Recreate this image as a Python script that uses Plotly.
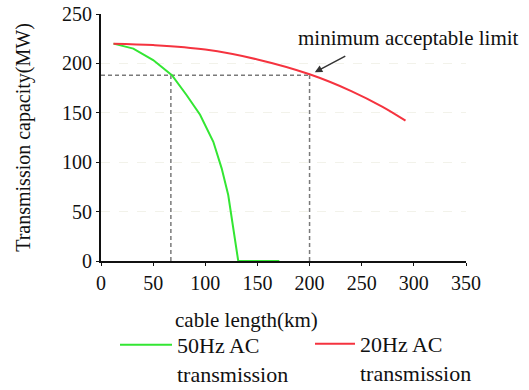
import plotly.graph_objects as go

# Data
red_x = [12, 50, 100, 150, 200, 240, 270, 292]
red_y = [220, 218.5, 214, 204, 189, 172, 156, 142]

green_x = [12, 31, 50, 68, 82, 95, 107.7, 115.7, 122, 126.8, 131.6, 171]
green_y = [220, 215, 203.4, 188, 168, 148, 120.7, 93.8, 66.8, 33, 0, 0]

limit_value = 188
limit_len_50 = 67
limit_len_20 = 200

x_ticks = [0, 50, 100, 150, 200, 250, 300, 350]
y_ticks = [0, 50, 100, 150, 200, 250]

FONT = "Liberation Serif"

fig = go.Figure()

# dashed guide lines
for gx, gy in [([0, limit_len_20], [limit_value, limit_value]),
               ([limit_len_50, limit_len_50], [0, limit_value]),
               ([limit_len_20, limit_len_20], [0, limit_value])]:
    fig.add_trace(go.Scatter(x=gx, y=gy, mode="lines",
                             line=dict(color="#7a7a7a", width=1.5, dash="4px,3px"),
                             showlegend=False, hoverinfo="skip"))

fig.add_trace(go.Scatter(x=green_x, y=green_y, mode="lines",
                         line=dict(color="#33e633", width=2, shape="linear"),
                         name="50Hz AC<br>transmission", legend="legend"))
fig.add_trace(go.Scatter(x=red_x, y=red_y, mode="lines",
                         line=dict(color="#f5333f", width=2, shape="spline"),
                         name="20Hz AC<br>transmission", legend="legend2"))

fig.add_annotation(x=205, y=191, xref="x", yref="y", text="", showarrow=True,
                   ax=32, ay=-17, arrowhead=2, arrowsize=1, arrowwidth=1.5,
                   arrowcolor="#333333")
fig.add_annotation(x=295, y=226, xref="x", yref="y", text="minimum acceptable limit",
                   showarrow=False, font=dict(family=FONT, size=21, color="#111111"))
# x-axis title (placed left of centre as in the reference)
fig.add_annotation(x=(246 - 101) / 365, y=(261 - 320) / 247, xref="paper", yref="paper",
                   text="cable length(km)", showarrow=False, xanchor="center", yanchor="middle",
                   font=dict(family=FONT, size=21, color="#111111"))

leg_common = dict(orientation="h", xref="container", yref="container",
                  xanchor="left", yanchor="top", valign="top",
                  font=dict(family=FONT, size=22, color="#111111"),
                  bgcolor="rgba(0,0,0,0)")

fig.update_layout(
    width=529, height=390,
    margin=dict(l=101, r=63, t=14, b=129, autoexpand=False),
    paper_bgcolor="white", plot_bgcolor="white",
    font=dict(family=FONT, size=20, color="#111111"),
    showlegend=True,
    legend=dict(x=115 / 529, y=1 - 324 / 390, itemwidth=52, **leg_common),
    legend2=dict(x=310 / 529, y=1 - 323 / 390, itemwidth=40, **leg_common),
)
fig.update_xaxes(range=[0, 350], tickvals=x_ticks, showline=True, linecolor="#111111",
                 linewidth=2, ticks="outside", ticklen=3, tickcolor="#111111",
                 showgrid=False, zeroline=False,
                 tickfont=dict(family=FONT, size=20))
fig.update_yaxes(range=[0, 250], tickvals=y_ticks, showline=True, linecolor="#111111",
                 linewidth=2, ticks="outside", ticklen=3, tickcolor="#111111",
                 showgrid=True, gridcolor="#f2f2ea", griddash="dash", zeroline=False,
                 title=dict(text="Transmission capacity(MW)", font=dict(family=FONT, size=20), standoff=26),
                 tickfont=dict(family=FONT, size=20))

fig.write_html("out.html", config={"displayModeBar": False},
               post_script="document.body.style.margin='0';")
